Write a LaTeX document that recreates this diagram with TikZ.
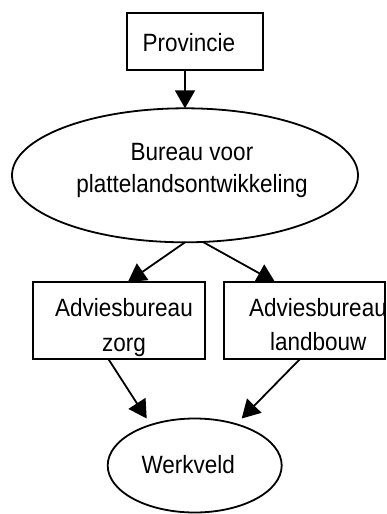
\documentclass[tikz,border=0pt]{standalone}
\usepackage{fontspec}
\setmainfont{Liberation Sans}[FakeStretch=0.9]
\usetikzlibrary{shapes.geometric,arrows.meta}
\newcommand{\pxu}{0.75pt}
\tikzset{
  shp/.style={draw=black, line width=1.35pt, inner sep=0pt, outer sep=0pt},
  boxshape/.style={shp, rectangle},
  ellshape/.style={shp, ellipse},
  lbl/.style={anchor=base, inner sep=0pt, font=\fontsize{18.75}{22}\selectfont, text=black},
  arr/.style={line width=1.35pt, -{Triangle[length=13.5pt,width=15pt]}}
}
\begin{document}
\begin{tikzpicture}[x=0.75pt,y=-0.75pt]
\useasboundingbox (0,0) rectangle (386,514);
% shapes
\node[boxshape, minimum width=136*\pxu, minimum height=57*\pxu] (prov) at (195,41.5) {};
\node[ellshape, minimum width=346*\pxu, minimum height=134*\pxu] (bur) at (185,175.3) {};
\node[boxshape, minimum width=172.3*\pxu, minimum height=77*\pxu] (zorg) at (118.85,320.5) {};
\node[boxshape, minimum width=161*\pxu, minimum height=77*\pxu] (land) at (304.5,320.5) {};
\node[ellshape, minimum width=174*\pxu, minimum height=94*\pxu] (werk) at (194.7,465.5) {};
% labels
\node[lbl] (tprov) at (189,51.7) {Provincie};
\node[lbl] (tbur1) at (192,160) {Bureau voor};
\node[lbl] (tbur2) at (192,192) {plattelandsontwikkeling};
\node[lbl] (tzorg1) at (124,316) {Adviesbureau};
\node[lbl] (tzorg2) at (124,351.7) {zorg};
\node[lbl] (tland1) at (318,316.7) {Adviesbureau};
\node[lbl] (tland2) at (318.3,350) {landbouw};
\node[lbl] (twerk) at (188.3,473.3) {Werkveld};
% connectors
\draw[arr] (prov.south -| bur.north) -- (bur.north);
\draw[arr] (bur.south) -- ([xshift=9*\pxu]zorg.north);
\draw[arr] (bur.-75) -- ([xshift=-29.5*\pxu]land.north);
\draw[arr] ([xshift=-10.5*\pxu]zorg.south) -- ([xshift=-48*\pxu]werk.north);
\draw[arr] ([xshift=-4.5*\pxu]land.south) -- ([xshift=47*\pxu]werk.north);
\end{tikzpicture}
\end{document}
